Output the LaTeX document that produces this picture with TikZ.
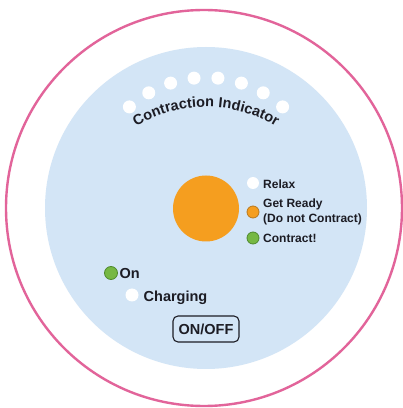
\documentclass[tikz,border=0pt]{standalone}
\usepackage{fontspec}
\setmainfont{Liberation Sans}
\usetikzlibrary{decorations.text,calc}
\definecolor{ringpink}{HTML}{E2649A}
\definecolor{faceblue}{HTML}{D3E5F6}
\definecolor{bigorange}{HTML}{F59E1F}
\definecolor{ledgreen}{HTML}{76B843}
\definecolor{ledgreenb}{HTML}{4F8A2E}
\definecolor{ledorangeb}{HTML}{B9791E}
\definecolor{inkdark}{HTML}{1C1C24}
\tikzset{
  led/.style={circle, inner sep=0pt, minimum size=13pt},
  whiteled/.style={led, fill=white},
  greenled/.style={led, fill=ledgreen, draw=ledgreenb, line width=0.8pt, minimum size=12pt},
  orangeled/.style={led, fill=bigorange, draw=ledorangeb, line width=0.8pt, minimum size=12pt},
  legtext/.style={anchor=base west, inner sep=0pt, text=inkdark, font=\fontsize{12}{14}\selectfont\bfseries},
  bigtext/.style={anchor=base west, inner sep=0pt, text=inkdark, font=\fontsize{14.5}{17}\selectfont\bfseries},
}
\begin{document}
\begin{tikzpicture}[x=1pt,y=1pt]
\useasboundingbox (0,0) rectangle (403,408);
\fill[white] (0,0) rectangle (403,408);
% outer ring
\node[circle, draw=ringpink, line width=2.4pt, fill=white, minimum size=396pt, inner sep=0pt] (ring) at (204,200) {};
% face
\node[circle, fill=faceblue, minimum size=322pt, inner sep=0pt] (face) at (206,200) {};
% indicator dots
\foreach \a [count=\i] in {132,120,108,96,84,72,60,48}
  \node[whiteled] (dot\i) at ($(206,216)+(\a:114.5)$) {};
% curved title
\coordinate (arcc) at (206,165);
\path[decorate, decoration={text along path, text align=center,
  text={|\fontsize{14.5}{17}\selectfont\bfseries\color{inkdark}|Contraction Indicator}}]
  ($(arcc)+(124:136)$) arc (124:56:136);
% big orange lamp
\node[circle, fill=bigorange, minimum size=66pt, inner sep=0pt] (lamp) at (206,199.5) {};
% legend
\node[whiteled, minimum size=12pt] (relaxdot) at (253,225) {};
\node[orangeled] (readydot) at (253,196) {};
\node[greenled] (contractdot) at (253,170) {};
\node[legtext] (relax) at (263,219.7) {Relax};
\node[legtext] (ready) at (263,200.5) {Get Ready};
\node[legtext] (donot) at (263,185.7) {(Do not Contract)};
\node[legtext] (contract) at (263,165.7) {Contract!};
% power
\node[greenled, minimum size=13pt] (ondot) at (111,135) {};
\node[bigtext] (on) at (119.5,129.3) {On};
\node[whiteled] (chgdot) at (132,113) {};
\node[bigtext] (charging) at (143.5,106.3) {Charging};
\node[draw=inkdark, line width=1.1pt, rounded corners=5pt, minimum width=66pt, minimum height=26pt, inner sep=0pt,
  font=\fontsize{14.5}{17}\selectfont\bfseries, text=inkdark] (onoff) at (206,79) {ON/OFF};
\end{tikzpicture}
\end{document}
